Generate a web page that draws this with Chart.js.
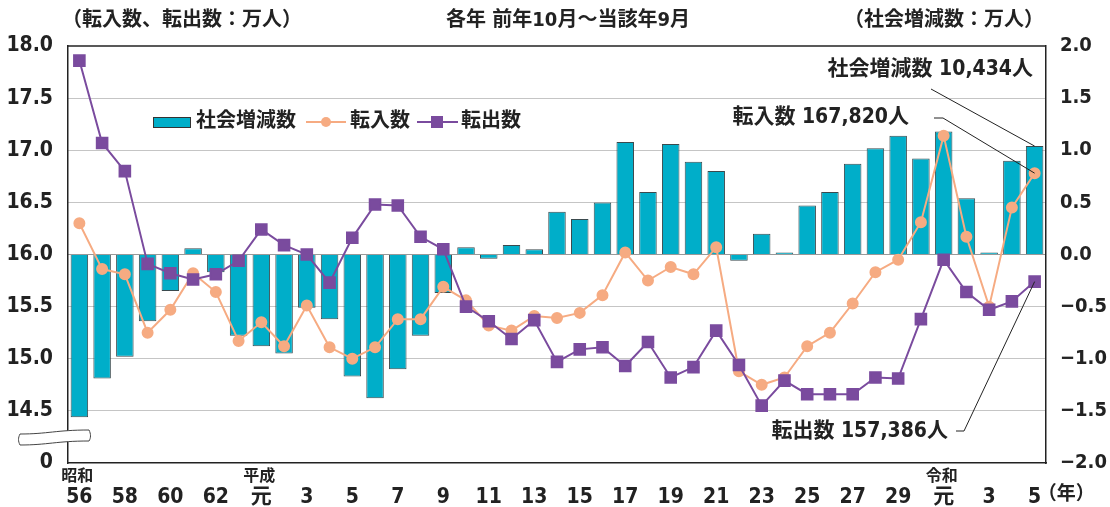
<!DOCTYPE html>
<html lang="ja">
<head>
<meta charset="utf-8">
<title>社会増減数・転入数・転出数の推移</title>
<script src="https://cdn.jsdelivr.net/npm/chart.js@4/dist/chart.umd.min.js"></script>
<style>
  html, body { margin: 0; padding: 0; background: #fff; }
</style>
</head>
<body>
<canvas id="chart" width="1110" height="507"></canvas>
<script>
// 昭和56年〜令和5年（各年 前年10月〜当該年9月）
const years = [
  '昭和56', '昭和57', '昭和58', '昭和59', '昭和60', '昭和61', '昭和62', '昭和63',
  '平成元', '平成2', '平成3', '平成4', '平成5', '平成6', '平成7', '平成8', '平成9', '平成10',
  '平成11', '平成12', '平成13', '平成14', '平成15', '平成16', '平成17', '平成18', '平成19', '平成20',
  '平成21', '平成22', '平成23', '平成24', '平成25', '平成26', '平成27', '平成28', '平成29', '平成30',
  '令和元', '令和2', '令和3', '令和4', '令和5'
];
const yearTicks = [
  '56', '', '58', '', '60', '', '62', '', '元', '', '3', '', '5', '', '7', '', '9', '',
  '11', '', '13', '', '15', '', '17', '', '19', '', '21', '', '23', '', '25', '', '27', '', '29', '',
  '元', '', '3', '', '5'
];
const eraTicks = { 0: '昭和', 8: '平成', 38: '令和' };

// 社会増減数（万人・右軸）
const netMigration = [
  -1.56, -1.19, -0.98, -0.64, -0.35, 0.06, -0.17, -0.78,
  -0.88, -0.95, -0.51, -0.62, -1.17, -1.38, -1.10, -0.78, -0.37, 0.07,
  -0.04, 0.09, 0.05, 0.41, 0.34, 0.50, 1.08, 0.60, 1.06, 0.89,
  0.80, -0.06, 0.20, 0.02, 0.47, 0.60, 0.87, 1.02, 1.14, 0.92,
  1.18, 0.54, 0.02, 0.90, 1.04
];
// 転入数（万人・左軸）
const moveIn = [
  16.30, 15.86, 15.81, 15.25, 15.47, 15.82, 15.64, 15.17,
  15.35, 15.12, 15.51, 15.11, 15.00, 15.11, 15.38, 15.38, 15.69, 15.56,
  15.32, 15.27, 15.41, 15.39, 15.44, 15.61, 16.02, 15.75, 15.88, 15.81,
  16.07, 14.88, 14.75, 14.82, 15.12, 15.25, 15.53, 15.83, 15.95, 16.31,
  17.14, 16.17, 15.50, 16.45, 16.78
];
// 転出数（万人・左軸）
const moveOut = [
  17.86, 17.07, 16.80, 15.91, 15.82, 15.76, 15.81, 15.94,
  16.24, 16.09, 16.00, 15.73, 16.16, 16.48, 16.47, 16.17, 16.05, 15.50,
  15.36, 15.19, 15.37, 14.97, 15.09, 15.11, 14.93, 15.16, 14.82, 14.92,
  15.27, 14.94, 14.55, 14.79, 14.66, 14.66, 14.66, 14.82, 14.81, 15.38,
  15.95, 15.64, 15.47, 15.55, 15.74
];

const NUM_FONT = "'DejaVu Sans Condensed', 'Noto Sans CJK JP', sans-serif";
const JP_FONT = "'DejaVu Sans Condensed', 'Noto Sans CJK JP', sans-serif";
const TEAL = '#00aec9';
const ORANGE = '#f6ab82';
const PURPLE = '#7a4b9e';
const INK = '#222';

// タイトル・凡例・注記・軸の省略記号
const decorations = {
  id: 'decorations',
  afterDraw(chart) {
    const ctx = chart.ctx;
    const area = chart.chartArea;
    const xs = chart.scales.x;
    ctx.save();

    // 上枠
    ctx.strokeStyle = INK;
    ctx.lineWidth = 1.5;
    ctx.beginPath();
    ctx.moveTo(area.left, area.top);
    ctx.lineTo(area.right, area.top);
    ctx.stroke();

    // 見出し
    ctx.fillStyle = INK;
    ctx.textBaseline = 'middle';
    ctx.font = 'bold 20px ' + JP_FONT;
    ctx.textAlign = 'left';
    ctx.fillText('（転入数、転出数：万人）', 62, 21);
    ctx.textAlign = 'center';
    ctx.fillText('各年 前年10月～当該年9月', 568, 21);
    ctx.textAlign = 'right';
    ctx.fillText('（社会増減数：万人）', 1044, 21);

    // 元号
    ctx.font = 'bold 16px ' + JP_FONT;
    ctx.textAlign = 'center';
    Object.keys(eraTicks).forEach(i => {
      ctx.fillText(eraTicks[i], xs.getPixelForValue(Number(i)) - 2, 477);
    });
    // (年)
    ctx.font = 'bold 19px ' + JP_FONT;
    ctx.textAlign = 'left';
    ctx.fillText('（年）', xs.getPixelForValue(years.length - 1) + 3, 495);

    // 凡例
    const ly = 122;
    ctx.fillStyle = TEAL;
    ctx.fillRect(153, ly - 5, 37, 10);
    ctx.strokeStyle = '#333';
    ctx.lineWidth = 1;
    ctx.strokeRect(153.5, ly - 4.5, 37, 10);
    ctx.fillStyle = INK;
    ctx.font = 'bold 20px ' + JP_FONT;
    ctx.fillText('社会増減数', 196, ly);

    ctx.strokeStyle = ORANGE;
    ctx.lineWidth = 2;
    ctx.beginPath(); ctx.moveTo(306, ly); ctx.lineTo(346, ly); ctx.stroke();
    ctx.fillStyle = ORANGE;
    ctx.beginPath(); ctx.arc(326, ly, 5, 0, Math.PI * 2); ctx.fill();
    ctx.fillStyle = INK;
    ctx.fillText('転入数', 350, ly);

    ctx.strokeStyle = PURPLE;
    ctx.beginPath(); ctx.moveTo(417, ly); ctx.lineTo(458, ly); ctx.stroke();
    ctx.fillStyle = PURPLE;
    ctx.fillRect(431, ly - 6, 12, 12);
    ctx.fillStyle = INK;
    ctx.fillText('転出数', 461, ly);

    // 最新値の注記
    const last = years.length - 1;
    const bar = chart.getDatasetMeta(0).data[last];
    const pin = chart.getDatasetMeta(1).data[last];
    const pout = chart.getDatasetMeta(2).data[last];
    ctx.font = 'bold 21px ' + JP_FONT;
    ctx.textAlign = 'right';
    ctx.fillText('社会増減数 10,434人', 1033, 70);
    ctx.fillText('転入数 167,820人', 909, 118);
    ctx.fillText('転出数 157,386人', 948, 432);

    ctx.strokeStyle = INK;
    ctx.lineWidth = 1;
    ctx.beginPath();
    ctx.moveTo(931, 89); ctx.lineTo(bar.x, bar.y);
    ctx.moveTo(934, 118); ctx.lineTo(943, 118); ctx.lineTo(pin.x, pin.y);
    ctx.moveTo(956, 431); ctx.lineTo(964, 431); ctx.lineTo(pout.x, pout.y);
    ctx.stroke();

    // 軸の省略記号
    ctx.beginPath();
    ctx.moveTo(20, 434);
    ctx.bezierCurveTo(48, 434, 56, 430, 89, 430);
    ctx.bezierCurveTo(91, 434, 91, 438, 89, 441);
    ctx.bezierCurveTo(56, 441, 48, 445, 20, 445);
    ctx.bezierCurveTo(18, 441, 18, 438, 20, 434);
    ctx.closePath();
    ctx.fillStyle = '#fff';
    ctx.fill();
    ctx.strokeStyle = '#444';
    ctx.lineWidth = 1;
    ctx.stroke();

    ctx.restore();
  }
};

new Chart(document.getElementById('chart'), {
  data: {
    labels: years,
    datasets: [
      {
        type: 'bar',
        label: '社会増減数',
        data: netMigration,
        yAxisID: 'y2',
        backgroundColor: TEAL,
        borderColor: '#3b4a4e',
        borderWidth: 1,
        categoryPercentage: 1,
        barPercentage: 0.77,
        order: 3
      },
      {
        type: 'line',
        label: '転入数',
        data: moveIn,
        yAxisID: 'y',
        borderColor: ORANGE,
        backgroundColor: ORANGE,
        borderWidth: 2,
        pointRadius: 5,
        pointStyle: 'circle',
        tension: 0,
        order: 2
      },
      {
        type: 'line',
        label: '転出数',
        data: moveOut,
        yAxisID: 'y',
        borderColor: PURPLE,
        backgroundColor: PURPLE,
        borderWidth: 2,
        pointRadius: 7.5,
        pointStyle: 'rect',
        tension: 0,
        order: 1
      }
    ]
  },
  options: {
    responsive: false,
    animation: false,
    layout: { padding: { top: 46, left: 0, right: 0, bottom: 0 } },
    plugins: {
      legend: { display: false },
      tooltip: { enabled: false }
    },
    scales: {
      x: {
        grid: { display: false },
        border: { display: true, color: INK, width: 1.5 },
        ticks: {
          autoSkip: false,
          maxRotation: 0,
          minRotation: 0,
          padding: 14,
          color: INK,
          font: { family: NUM_FONT, size: 21, weight: 'bold' },
          callback: (v, i) => yearTicks[i]
        },
        afterFit: s => { s.height = 44; }
      },
      y: {
        position: 'left',
        min: 14,
        max: 18,
        ticks: {
          stepSize: 0.5,
          padding: 15,
          color: INK,
          font: { family: NUM_FONT, size: 21, weight: 'bold' },
          callback: v => v === 14 ? '0' : v.toFixed(1)
        },
        grid: {
          drawTicks: false,
          lineWidth: 1,
          color: c => {
            const v = c.tick.value;
            if (v === 14 || v === 18) return 'rgba(0,0,0,0)';
            return v === 16 ? '#333' : '#8a8a8a';
          }
        },
        border: { color: INK, width: 1.5, dash: [1, 1] },
        afterFit: s => { s.width = 68; }
      },
      y2: {
        position: 'right',
        min: -2,
        max: 2,
        ticks: {
          stepSize: 0.5,
          padding: 14,
          color: INK,
          font: { family: NUM_FONT, size: 20, weight: 'bold' },
          callback: v => (v < 0 ? '−' : '') + Math.abs(v).toFixed(1)
        },
        grid: { drawOnChartArea: false, drawTicks: false },
        border: { color: INK, width: 1.5 },
        afterFit: s => { s.width = 64; }
      }
    }
  },
  plugins: [decorations]
});
</script>
</body>
</html>
